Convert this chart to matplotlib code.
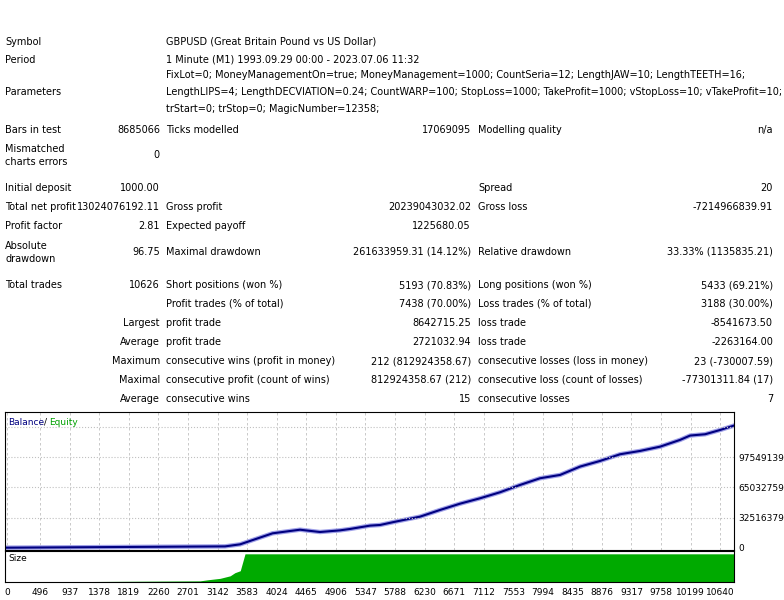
import matplotlib.pyplot as plt

# report rows: (label, value, label2, value2, label3, value3, y pixel)
rows = [
    ("Bars in test", "8685066", "Ticks modelled", "17069095", "Modelling quality", "n/a", 130),
    ("Initial deposit", "1000.00", "", "", "Spread", "20", 188),
    ("Total net profit", "13024076192.11", "Gross profit", "20239043032.02", "Gross loss", "-7214966839.91", 207),
    ("Profit factor", "2.81", "Expected payoff", "1225680.05", "", "", 226),
    ("Total trades", "10626", "Short positions (won %)", "5193 (70.83%)", "Long positions (won %)", "5433 (69.21%)", 285),
    ("", "", "Profit trades (% of total)", "7438 (70.00%)", "Loss trades (% of total)", "3188 (30.00%)", 304),
]
right_rows = [
    ("Largest", "profit trade", "8642715.25", "loss trade", "-8541673.50", 323),
    ("Average", "profit trade", "2721032.94", "loss trade", "-2263164.00", 342),
    ("Maximum", "consecutive wins (profit in money)", "212 (812924358.67)", "consecutive losses (loss in money)", "23 (-730007.59)", 361),
    ("Maximal", "consecutive profit (count of wins)", "812924358.67 (212)", "consecutive loss (count of losses)", "-77301311.84 (17)", 380),
    ("Average", "consecutive wins", "15", "consecutive losses", "7", 399),
]
params = [
    "FixLot=0; MoneyManagementOn=true; MoneyManagement=1000; CountSeria=12; LengthJAW=10; LengthTEETH=16;",
    "LengthLIPS=4; LengthDECVIATION=0.24; CountWARP=100; StopLoss=1000; TakeProfit=1000; vStopLoss=10; vTakeProfit=10;",
    "trStart=0; trStop=0; MagicNumber=12358;",
]

# balance curve (trade number, balance)
bal_x = [0, 3253, 3477, 3962, 4223, 4372, 4670, 4969, 5118, 5416, 5566, 5790, 6163, 6461,
         6760, 7058, 7356, 7655, 7953, 8252, 8550, 8849, 9147, 9446, 9744, 10042, 10192,
         10416, 10640, 10849]
bal_y = [0.0, 1.4e6, 3.6e6, 15.5e6, 18.0e6, 19.4e6, 16.9e6, 18.7e6, 20.2e6, 23.8e6, 24.5e6,
         28.0e6, 33.5e6, 40.7e6, 47.5e6, 53.3e6, 59.8e6, 67.7e6, 74.9e6, 78.5e6, 87.5e6,
         93.6e6, 100.8e6, 104.4e6, 109.0e6, 116.3e6, 121.0e6, 122.4e6, 127.0e6, 131.8e6]

# lot size
size_x = [0, 2880, 3000, 3180, 3330, 3400, 3480, 3551, 10849]
size_y = [0, 0.04, 0.08, 0.13, 0.22, 0.33, 0.40, 1.0, 1.0]

y_ticks = [0, 32516379, 65032759, 97549139]
x_ticks = [0, 496, 937, 1378, 1819, 2260, 2701, 3142, 3583, 4024, 4465, 4906, 5347, 5788,
           6230, 6671, 7112, 7553, 7994, 8435, 8876, 9317, 9758, 10199, 10640]

W, H = 784, 600
fig = plt.figure(figsize=(7.84, 6), dpi=100)
fig.set_facecolor("white")
fs = 7


def txt(px, py, s, ha="left", **kw):
    fig.text(px / W, 1 - py / H, s, ha=ha, va="center", fontsize=fs, **kw)


txt(5, 42, "Symbol")
txt(166, 42, "GBPUSD (Great Britain Pound vs US Dollar)")
txt(5, 60, "Period")
txt(166, 60, "1 Minute (M1) 1993.09.29 00:00 - 2023.07.06 11:32")
txt(5, 92, "Parameters")
for i, p in enumerate(params):
    txt(166, 75 + 17 * i, p)
txt(5, 149, "Mismatched")
txt(5, 162, "charts errors")
txt(160, 155, "0", ha="right")
txt(5, 246, "Absolute")
txt(5, 259, "drawdown")
txt(160, 252, "96.75", ha="right")
txt(166, 252, "Maximal drawdown")
txt(471, 252, "261633959.31 (14.12%)", ha="right")
txt(478, 252, "Relative drawdown")
txt(773, 252, "33.33% (1135835.21)", ha="right")

for l1, v1, l2, v2, l3, v3, py in rows:
    txt(5, py, l1)
    txt(160, py, v1, ha="right")
    txt(166, py, l2)
    txt(471, py, v2, ha="right")
    txt(478, py, l3)
    txt(773, py, v3, ha="right")

for l1, l2, v2, l3, v3, py in right_rows:
    txt(160, py, l1, ha="right")
    txt(166, py, l2)
    txt(471, py, v2, ha="right")
    txt(478, py, l3)
    txt(773, py, v3, ha="right")

xlim = (-30, 10847)

ax = fig.add_axes([5 / W, 1 - 550 / H, 729 / W, 138 / H])
ax.plot(bal_x, bal_y, color="#9fa0e8", lw=3.2)
ax.plot(bal_x, bal_y, color="#000080", lw=1.5)
ax.set_xlim(*xlim)
ax.set_ylim(-2.5e6, 146.4e6)
ax.set_yticks(y_ticks)
ax.set_yticklabels([str(v) for v in y_ticks])
ax.yaxis.tick_right()
ax.tick_params(axis="y", length=0, labelsize=fs - 0.5, pad=3)
ax.set_xticks(x_ticks)
ax.tick_params(axis="x", length=0, labelbottom=False)
ax.grid(True, axis="x", color="#c0c0c0", ls=(0, (3, 3)), lw=0.6)
for v in y_ticks[1:] + [130065518]:
    ax.axhline(v, color="#c0c0c0", ls=":", lw=0.8)
ax.text(0.004, 0.96, "Balance", transform=ax.transAxes, color="#000080", fontsize=fs - 0.5, va="top")
ax.text(0.054, 0.96, "/", transform=ax.transAxes, color="black", fontsize=fs - 0.5, va="top")
ax.text(0.061, 0.96, "Equity", transform=ax.transAxes, color="#00a000", fontsize=fs - 0.5, va="top")

ax2 = fig.add_axes([5 / W, 1 - 582 / H, 729 / W, 31 / H])
ax2.fill_between(size_x, 0, size_y, color="#00aa00", lw=0)
ax2.set_xlim(*xlim)
ax2.set_ylim(0, 1.1)
ax2.set_yticks([])
ax2.set_xticks(x_ticks)
ax2.set_xticklabels([str(v) for v in x_ticks])
ax2.tick_params(axis="x", length=0, labelsize=fs - 0.5, pad=4)
ax2.text(0.004, 0.9, "Size", transform=ax2.transAxes, fontsize=fs - 0.5, va="top")

for a in (ax, ax2):
    for s in a.spines.values():
        s.set_linewidth(0.8)

fig.savefig("out.png", dpi=100)
